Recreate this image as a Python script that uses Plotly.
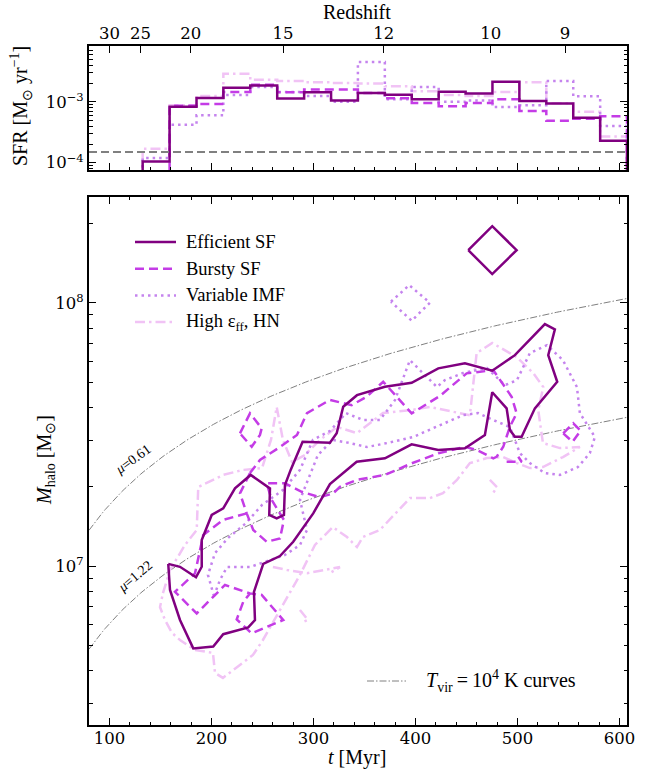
import numpy as np
import plotly.graph_objects as go

# ---------------- data ----------------
# SFR histogram: bin edges in Myr and per-model star formation rates (Msun/yr)
sfr_edges = [132.6, 159.0, 185.4, 211.7, 238.1, 264.5, 290.9, 317.3, 343.6, 370.0,
             396.4, 422.8, 449.2, 475.5, 501.9, 528.3, 554.7, 581.1, 607.4]
sfr_efficient = [1.05e-4, 8.3e-4, 1.16e-3, 1.7e-3, 1.86e-3, 1.14e-3, 1.44e-3, 1.05e-3, 1.40e-3,
                 1.31e-3, 1.1e-3, 1.46e-3, 1.37e-3, 2.15e-3, 1.03e-3, 9.4e-4, 5.5e-4, 2.3e-4]
sfr_bursty = [5e-5, 8.6e-4, 9.2e-4, 1.45e-3, 1.91e-3, 1.44e-3, 1.6e-3, 1.6e-3, 1.4e-3,
              1.15e-3, 9.6e-4, 8.5e-4, 9.6e-4, 1.1e-3, 7.1e-4, 4.9e-4, 5.3e-4, 5.8e-4]
sfr_imf = [1.2e-4, 4.2e-4, 6.0e-4, 1.3e-3, 1.75e-3, 1.45e-3, 1.25e-3, 1.0e-3, 4.5e-3,
           1.1e-3, 1.75e-3, 1.0e-3, 1.05e-3, 8.2e-4, 8.8e-4, 2.2e-3, 1.24e-3, 4.0e-4]
sfr_hn = [1.7e-4, 8.8e-4, 1.25e-3, 2.9e-3, 2.3e-3, 2.2e-3, 2.1e-3, 2.05e-3, 2.0e-3,
          1.8e-3, 1.5e-3, 1.3e-3, 1.25e-3, 1.45e-3, 2.1e-3, 9.5e-4, 6.9e-4, 2.7e-4]
sfr_floor = 1.5e-4

# halo-mass contours: time (Myr) and log10 halo mass (Msun)
eff_t = [157.7, 169.2, 184.9, 190.5, 190.5, 200.3, 211.6, 223.1, 238.5, 257.4, 256.7, 264.0,
         271.1, 272.1, 277.7, 289.4, 316.2, 322.8, 329.2, 342.7, 370.1, 396.3, 422.4, 448.5,
         475.3, 497.5, 526.9, 536.7, 530.2, 539.0, 517.1, 504.1, 497.5, 492.6, 489.4, 475.3,
         468.1, 448.5, 422.4, 396.3, 370.1, 342.4, 316.2, 299.8, 280.2, 267.2, 250.8, 241.7,
         242.7, 236.1, 211.6, 201.8, 182.2, 169.2, 159.4, 157.7]
eff_lm = [7.008, 6.997, 6.957, 6.997, 7.099, 7.194, 7.219, 7.295, 7.346, 7.295, 7.194, 7.181,
          7.194, 7.308, 7.365, 7.472, 7.468, 7.504, 7.605, 7.649, 7.681, 7.696, 7.751, 7.770,
          7.742, 7.801, 7.919, 7.899, 7.801, 7.700, 7.599, 7.491, 7.491, 7.517, 7.599, 7.660,
          7.498, 7.447, 7.441, 7.462, 7.409, 7.396, 7.311, 7.200, 7.092, 7.038, 7.008, 6.902,
          6.795, 6.767, 6.741, 6.694, 6.687, 6.795, 6.909, 7.008]
eff_peak_t = [451.8, 475.3, 499.2, 475.3, 451.8]
eff_peak_lm = [8.200, 8.291, 8.200, 8.109, 8.200]

bur_t = [237.8, 247.6, 267.2, 283.9, 293.7, 316.2, 337.5, 352.2, 368.4, 396.3, 424.0, 450.2,
         476.3, 494.3, 499.2, 492.6, 486.1, 479.6, 476.3, 460.0, 448.5, 422.4, 396.3, 370.1,
         342.4, 326.0, 319.4, 306.4, 288.5, 272.1, 254.2, 259.1, 271.1, 267.2, 254.2, 241.0,
         234.6, 228.0, 237.8]
bur_lm = [7.353, 7.403, 7.452, 7.498, 7.581, 7.631, 7.611, 7.643, 7.700, 7.580, 7.646, 7.732,
          7.744, 7.643, 7.580, 7.529, 7.453, 7.415, 7.409, 7.441, 7.453, 7.428, 7.390, 7.346,
          7.327, 7.301, 7.276, 7.261, 7.282, 7.314, 7.314, 7.251, 7.175, 7.105, 7.092, 7.137,
          7.200, 7.276, 7.353]
bur_low_t = [234.6, 211.6, 192.0, 183.9, 164.3, 185.6, 213.3, 237.8, 249.3, 270.4, 239.5, 224.8,
             231.2, 237.8]
bur_low_lm = [7.200, 7.175, 7.118, 6.972, 6.902, 6.820, 6.928, 6.896, 6.890, 6.795, 6.744, 6.797,
              6.864, 6.896]
bur_small_t = [228.0, 237.8, 249.3, 247.6, 239.5, 231.2, 228.0]
bur_small_lm = [7.504, 7.580, 7.523, 7.498, 7.453, 7.491, 7.504]
bur_tail_t = [489.4, 504.1, 500.8]
bur_tail_lm = [7.396, 7.396, 7.415]
bur_peak_t = [544.9, 554.7, 561.9, 554.1, 544.9]
bur_peak_lm = [7.504, 7.542, 7.514, 7.472, 7.504]

imf_t = [202.5, 196.6, 203.5, 216.2, 233.9, 249.6, 270.1, 286.8, 299.5, 316.2, 331.9, 348.5,
         365.2, 379.9, 394.6, 407.4, 421.1, 428.9, 446.6, 470.1, 487.7, 499.5, 512.2, 528.9,
         544.6, 558.3, 561.2, 575.9, 571.0, 559.3, 541.6, 526.9, 512.2, 502.4, 492.6, 476.0,
         461.3, 446.6, 424.0, 397.6, 372.1, 352.5, 335.8, 319.1, 304.4, 286.8, 293.7, 286.8,
         272.1, 249.6, 237.8, 215.3, 208.4, 202.5]
imf_lm = [6.886, 6.966, 7.049, 7.106, 7.163, 7.232, 7.289, 7.365, 7.479, 7.513, 7.581, 7.555,
          7.555, 7.630, 7.782, 7.733, 7.680, 7.706, 7.733, 7.752, 7.687, 7.706, 7.809, 7.839,
          7.782, 7.680, 7.581, 7.490, 7.429, 7.376, 7.346, 7.353, 7.391, 7.429, 7.528, 7.555,
          7.581, 7.573, 7.536, 7.490, 7.467, 7.452, 7.467, 7.479, 7.422, 7.251, 7.137, 7.080,
          7.042, 7.011, 6.996, 6.996, 6.947, 6.886]
imf_peak_t = [376.0, 393.9, 414.2, 396.3, 376.0]
imf_peak_lm = [8.004, 8.067, 8.000, 7.932, 8.004]

hn_t = [152.5, 159.4, 174.1, 185.6, 187.1, 195.4, 211.6, 230.9, 249.6, 258.4, 264.0, 270.1,
        279.0, 291.7, 306.4, 323.1, 342.7, 368.2, 394.6, 414.2, 430.9, 453.4, 460.0, 475.3,
        499.2, 515.5, 525.3, 520.4, 525.0, 541.6, 561.2, 544.6, 525.0, 512.2, 499.5, 485.8,
        470.1, 453.4, 440.7, 427.0, 414.2, 394.6, 365.2, 348.5, 342.7, 332.9, 319.1, 301.5,
        286.8, 270.1, 250.5, 240.7, 225.0, 211.3, 203.5, 201.5, 183.9, 169.2, 161.3, 154.5,
        149.6, 152.5]
hn_lm = [6.897, 6.985, 7.080, 7.137, 7.300, 7.315, 7.346, 7.365, 7.372, 7.479, 7.604, 7.479,
         7.395, 7.422, 7.479, 7.528, 7.505, 7.581, 7.592, 7.604, 7.592, 7.573, 7.809, 7.847,
         7.794, 7.733, 7.680, 7.592, 7.467, 7.448, 7.452, 7.414, 7.376, 7.372, 7.391, 7.414,
         7.410, 7.391, 7.327, 7.277, 7.258, 7.258, 7.137, 7.110, 7.072, 7.110, 7.148, 7.080,
         6.966, 6.852, 6.719, 6.662, 6.616, 6.575, 6.594, 6.670, 6.681, 6.719, 6.746, 6.795,
         6.844, 6.897]
hn_bits_t = [[260.3, 274.1, 293.7, 326.0, 316.2], [286.8, 294.6, 289.7], [473.0, 479.9, 475.0]]
hn_bits_lm = [[6.996, 6.985, 6.973, 6.996, 6.973], [6.833, 6.795, 6.787], [7.327, 7.300, 7.270]]

redshift_ticks = [30, 25, 20, 15, 12, 10, 9]
mu_values = [0.61, 1.22]

# ---------------- helpers ----------------
H0, OM, OL = 67.7, 0.31, 0.69
TAU = 977.8 / H0 * 2.0 / (3.0 * np.sqrt(OL)) * 1000.0  # Myr


def t_of_z(z):
    return TAU * np.arcsinh(np.sqrt(OL / OM) * (1.0 + np.asarray(z, float)) ** -1.5)


def one_plus_z(t):
    return (np.sinh(np.asarray(t, float) / TAU) / np.sqrt(OL / OM)) ** (-2.0 / 3.0)


def tvir_mass(t, mu):
    # virial mass at T_vir = 1e4 K, scaled as mu^-1.5 (1+z)^-1.5
    return 8.1e7 * (mu / 0.61) ** -1.5 * (one_plus_z(t) / 11.0) ** -1.5


X0, X1 = 80.0, 607.4
L, R, T, B = 89, 29, 46, 48
W, H = 656, 773
PW, PH = W - L - R, H - T - B


def px(x):
    return (x - L) / PW


def py(y):
    return (H - B - y) / PH


C_EFF = "#800080"
C_BUR = "#c43ce6"
C_IMF = "#c584ee"
C_HN = "#f1c3f5"
SERIF = "Liberation Serif"
TICKF = "DejaVu Serif"
LW = 2.5
DASH_BUR = "9px,5px"
DASH_IMF = "2.5px,4px"
DASH_HN = "10px,4px,2.5px,4px"

styles = [
    ("Efficient SF", C_EFF, "solid"),
    ("Bursty SF", C_BUR, DASH_BUR),
    ("Variable IMF", C_IMF, DASH_IMF),
    ("High ε<sub>ff</sub>, HN", C_HN, DASH_HN),
]

fig = go.Figure()


def step_trace(values, color, dash):
    xs, ys = [sfr_edges[0]], [1e-6]
    for i, v in enumerate(values):
        xs += [sfr_edges[i], sfr_edges[i + 1]]
        ys += [v, v]
    xs.append(sfr_edges[-1])
    ys.append(1e-6)
    fig.add_trace(go.Scatter(x=xs, y=ys, mode="lines", xaxis="x2", yaxis="y2",
                             line=dict(color=color, width=LW, dash=dash),
                             showlegend=False, hoverinfo="skip"))


# top panel: SFR histories
step_trace(sfr_hn, C_HN, DASH_HN)
step_trace(sfr_imf, C_IMF, DASH_IMF)
step_trace(sfr_bursty, C_BUR, DASH_BUR)
step_trace(sfr_efficient, C_EFF, "solid")
fig.add_trace(go.Scatter(x=[X0, X1], y=[sfr_floor, sfr_floor], mode="lines", xaxis="x2", yaxis="y2",
                         line=dict(color="#808080", width=2.2, dash="8px,4px"),
                         showlegend=False, hoverinfo="skip"))
# anchors the redshift axis on top of the SFR panel
fig.add_trace(go.Scatter(x=[X0, X1], y=[sfr_floor, sfr_floor], mode="lines", xaxis="x3", yaxis="y2",
                         line=dict(width=0), opacity=0, showlegend=False, hoverinfo="skip"))

# T_vir curves
tt = np.linspace(X0, X1, 200)
for mu in mu_values:
    fig.add_trace(go.Scatter(x=tt, y=tvir_mass(tt, mu), mode="lines",
                             line=dict(color="#808080", width=1, dash="7px,2px,1.5px,2px"),
                             showlegend=False, hoverinfo="skip"))


def contour(ts, lms, color, dash):
    fig.add_trace(go.Scatter(x=ts, y=10 ** np.asarray(lms), mode="lines",
                             line=dict(color=color, width=LW, dash=dash),
                             showlegend=False, hoverinfo="skip"))


contour(hn_t, hn_lm, C_HN, DASH_HN)
for bt, bl in zip(hn_bits_t, hn_bits_lm):
    contour(bt, bl, C_HN, DASH_HN)
contour(imf_t, imf_lm, C_IMF, DASH_IMF)
contour(imf_peak_t, imf_peak_lm, C_IMF, DASH_IMF)
contour(bur_t, bur_lm, C_BUR, DASH_BUR)
contour(bur_low_t, bur_low_lm, C_BUR, DASH_BUR)
contour(bur_small_t, bur_small_lm, C_BUR, DASH_BUR)
contour(bur_tail_t, bur_tail_lm, C_BUR, DASH_BUR)
contour(bur_peak_t, bur_peak_lm, C_BUR, DASH_BUR)
contour(eff_t, eff_lm, C_EFF, "solid")
contour(eff_peak_t, eff_peak_lm, C_EFF, "solid")

# legend (upper left)
shapes = []
annotations = []
for i, (name, color, dash) in enumerate(styles):
    yy = py(242 + 26.7 * i)
    shapes.append(dict(type="line", xref="paper", yref="paper", x0=px(135), x1=px(176), y0=yy, y1=yy,
                       line=dict(color=color, width=LW, dash=dash)))
    annotations.append(dict(text=name, xref="paper", yref="paper", x=px(184), y=yy, xanchor="left",
                            yanchor="middle", showarrow=False, font=dict(family=SERIF, size=18.5, color="black")))

# T_vir legend (lower right)
shapes.append(dict(type="line", xref="paper", yref="paper", x0=px(367), x1=px(406), y0=py(681), y1=py(681),
                   line=dict(color="#808080", width=1, dash="7px,2px,1.5px,2px")))
annotations.append(dict(text="<i>T</i><sub>vir</sub>\u2009=\u200910<sup>4</sup>\u00a0K curves",
                        xref="paper", yref="paper",
                        x=px(424), y=py(681), xanchor="left", yanchor="middle", showarrow=False,
                        font=dict(family=SERIF, size=20, color="black")))


def label(text, x, y, size, angle=0, xref="paper", yref="paper"):
    annotations.append(dict(text=text, x=x, y=y, xref=xref, yref=yref, xanchor="center", yanchor="middle",
                            showarrow=False, textangle=angle, font=dict(family=SERIF, size=size, color="black")))


# mu labels along the T_vir curves
label("<i>μ</i>=0.61", 123.0, np.log10(2.53e7), 14, -36, "x", "y")
label("<i>μ</i>=1.22", 125.0, np.log10(9.1e6), 14, -40, "x", "y")

# axis titles
label("<i>t</i> [Myr]", px(357), py(757), 20)
label("<i>M</i><sub>halo</sub> [M<sub>⊙</sub>]", px(45), py(460), 20, -90)
label("SFR [M<sub>⊙</sub> yr<sup>−1</sup>]", px(21), py(106), 20, -90)
label("Redshift", px(357), py(12), 20)

axis_common = dict(showline=True, linecolor="black", linewidth=2, ticks="inside", tickcolor="black",
                   tickwidth=1.4, showgrid=False, zeroline=False,
                   tickfont=dict(family=TICKF, size=16.5, color="black"))

dom_bot = [0, py(196.7)]
dom_top = [py(170), 1]

m_minor = [v * 10 ** e for e in (6, 7, 8) for v in range(2, 10) if 2.5e6 < v * 10 ** e < 2.5e8]
s_minor = [v * 10 ** e for e in (-5, -4, -3) for v in range(2, 10) if 7.6e-5 < v * 10 ** e < 8.3e-3]

fig.update_layout(
    width=W, height=H, margin=dict(l=L, r=R, t=T, b=B),
    paper_bgcolor="white", plot_bgcolor="white", showlegend=False,
    xaxis=dict(axis_common, domain=[0, 1], anchor="y", range=[X0, X1], mirror="ticks",
               tickvals=[100, 200, 300, 400, 500, 600], ticklen=7, ticklabelstandoff=-3,
               minor=dict(ticks="inside", dtick=20, tick0=0, ticklen=3.5, tickcolor="black", tickwidth=1.2)),
    yaxis=dict(axis_common, domain=dom_bot, anchor="x", type="log", range=[6.396, 8.403], mirror="ticks",
               tickvals=[1e7, 1e8], ticktext=["10<sup>7</sup>", "10<sup>8</sup>"], ticklen=7,
               minor=dict(ticks="inside", tickvals=m_minor, ticklen=3.5, tickcolor="black", tickwidth=1.2)),
    xaxis2=dict(axis_common, domain=[0, 1], anchor="y2", range=[X0, X1], mirror=True,
                tickvals=[100, 200, 300, 400, 500, 600], showticklabels=False, ticklen=7,
                minor=dict(ticks="inside", dtick=20, tick0=0, ticklen=3.5, tickcolor="black", tickwidth=1.2)),
    yaxis2=dict(axis_common, domain=dom_top, anchor="x2", type="log", range=[-4.120, -2.082], mirror="ticks",
                tickvals=[1e-4, 1e-3], ticktext=["10<sup>−4</sup>", "10<sup>−3</sup>"], ticklen=7,
                minor=dict(ticks="inside", tickvals=s_minor, ticklen=3.5, tickcolor="black", tickwidth=1.2)),
    xaxis3=dict(axis_common, overlaying="x2", anchor="y2", side="top", range=[X0, X1], showline=False,
                tickvals=list(t_of_z(redshift_ticks)), ticktext=[str(z) for z in redshift_ticks], ticklen=7,
                ticklabelstandoff=3),
    shapes=shapes, annotations=annotations,
)

fig.write_html("out.html")
